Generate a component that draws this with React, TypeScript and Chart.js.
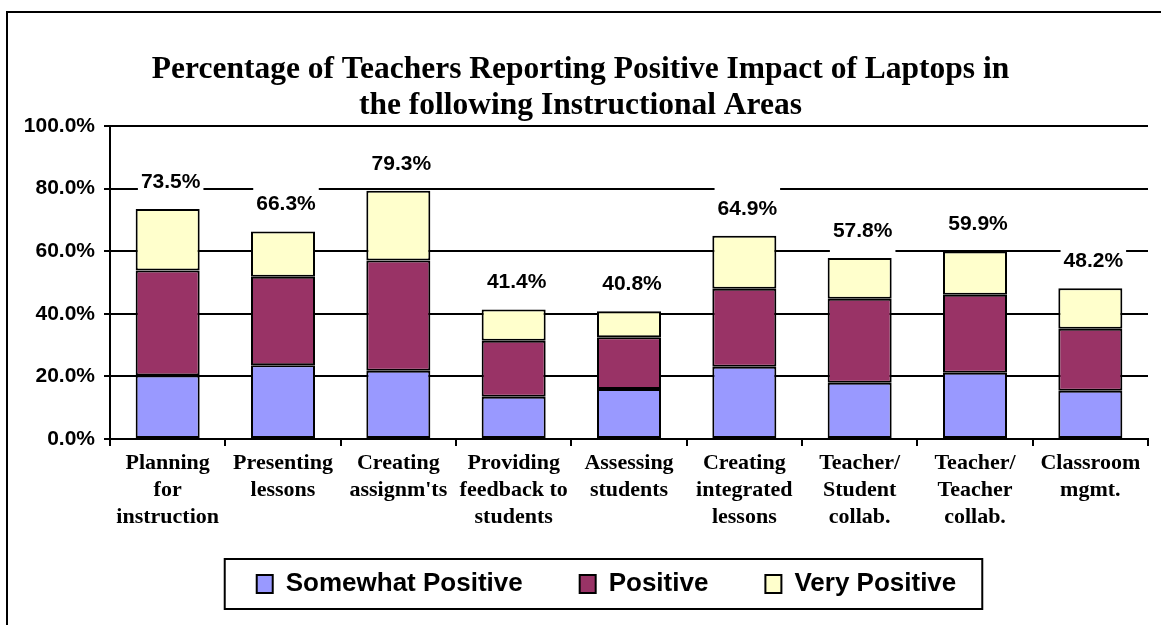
import { useEffect, useRef } from 'react';
import { Chart, registerables } from 'chart.js';

Chart.register(...registerables);

const titleLines = [
  'Percentage of Teachers Reporting Positive Impact of Laptops in',
  'the following Instructional Areas',
];

const categories: string[][] = [
  ['Planning', 'for', 'instruction'],
  ['Presenting', 'lessons'],
  ['Creating', "assignm'ts"],
  ['Providing', 'feedback to', 'students'],
  ['Assessing', 'students'],
  ['Creating', 'integrated', 'lessons'],
  ['Teacher/', 'Student', 'collab.'],
  ['Teacher/', 'Teacher', 'collab.'],
  ['Classroom', 'mgmt.'],
];

const seriesNames = ['Somewhat Positive', 'Positive', 'Very Positive'];
const somewhatPositive = [20.3, 23.6, 21.8, 13.5, 16.0, 23.1, 18.0, 21.2, 15.4];
const positive = [33.5, 28.2, 35.2, 17.9, 16.5, 24.9, 26.8, 24.9, 19.8];
const veryPositive = [19.7, 14.5, 22.3, 10.0, 8.3, 16.9, 13.0, 13.8, 13.0];
const seriesColors = ['#9999FF', '#993366', '#FFFFCC'];

const yMin = 0;
const yMax = 100;
const yStep = 20;

const SANS = '"Liberation Sans", Arial, Helvetica, sans-serif';
const SERIF = '"Times New Roman", "Liberation Serif", serif';

const LEGEND_FONT = 26;
const LEGEND_PAD = 57;
const LEGEND_SHIFT_X = 26;
const LEGEND_SHIFT_Y = -18;

const framePlugin = {
  id: 'outerFrame',
  beforeDraw(chart: any) {
    const ctx = chart.ctx;
    ctx.save();
    ctx.fillStyle = '#ffffff';
    ctx.fillRect(0, 0, chart.width, chart.height);
    ctx.strokeStyle = '#000';
    ctx.lineWidth = 2;
    ctx.strokeRect(7, 12, chart.width + 50, chart.height + 50);
    ctx.restore();
  },
};

const totalsPlugin = {
  id: 'totalLabels',
  afterDatasetsDraw(chart: any) {
    const ctx = chart.ctx;
    const yScale = chart.scales.y;
    const meta = chart.getDatasetMeta(2);
    ctx.save();
    ctx.font = `bold 21px ${SANS}`;
    ctx.textAlign = 'center';
    ctx.textBaseline = 'middle';
    categories.forEach((_, i) => {
      const total = somewhatPositive[i] + positive[i] + veryPositive[i];
      const text = total.toFixed(1) + '%';
      const x = meta.data[i].x + 3;
      const cy = yScale.getPixelForValue(total) - 27;
      const w = ctx.measureText(text).width + 6;
      ctx.fillStyle = '#ffffff';
      ctx.fillRect(x - w / 2, cy - 23, w, 46);
      ctx.fillStyle = '#000';
      ctx.fillText(text, x, cy);
    });
    ctx.restore();
  },
};

const legendFramePlugin = {
  id: 'legendFrame',
  afterLayout(chart: any) {
    const lg = chart.legend;
    if (lg) {
      lg.left += LEGEND_SHIFT_X;
      lg.right += LEGEND_SHIFT_X;
      lg.top += LEGEND_SHIFT_Y;
      lg.bottom += LEGEND_SHIFT_Y;
    }
  },
  afterDraw(chart: any) {
    const lg = chart.legend;
    if (!lg || !lg.legendHitBoxes || !lg.legendHitBoxes.length) return;
    const boxes = lg.legendHitBoxes;
    const first = boxes[0];
    const last = boxes[boxes.length - 1];
    const cy = lg.top + LEGEND_PAD + LEGEND_FONT / 2;
    const left = first.left - 32;
    const right = last.left + last.width + 26;
    const ctx = chart.ctx;
    ctx.save();
    ctx.strokeStyle = '#000';
    ctx.lineWidth = 2;
    ctx.strokeRect(left, cy - 25, right - left, 50);
    ctx.restore();
  },
};

export default function App() {
  const canvasRef = useRef<HTMLCanvasElement | null>(null);

  useEffect(() => {
    const canvas = canvasRef.current;
    if (!canvas) return;
    const seriesData = [somewhatPositive, positive, veryPositive];
    const chart = new Chart(canvas, {
      type: 'bar',
      data: {
        labels: categories,
        datasets: seriesNames.map((name, k) => ({
          label: name,
          data: seriesData[k],
          backgroundColor: seriesColors[k],
          borderColor: '#000',
          borderWidth: 2,
          borderSkipped: false,
          barPercentage: 0.555,
          categoryPercentage: 1,
        })),
      },
      options: {
        responsive: false,
        animation: false,
        events: [],
        layout: { padding: { left: 13, right: 13, top: 14, bottom: 0 } },
        scales: {
          x: {
            stacked: true,
            grid: {
              display: true,
              drawOnChartArea: false,
              drawTicks: true,
              tickLength: 7,
              color: '#000',
              lineWidth: 2,
              offset: true,
            },
            border: { display: true, color: '#000', width: 2 },
            ticks: {
              color: '#000',
              autoSkip: false,
              maxRotation: 0,
              minRotation: 0,
              padding: 4,
              font: { family: SERIF, weight: 'bold', size: 22, lineHeight: '27px' },
            },
            afterFit(scale: any) {
              scale.height = 93;
            },
          },
          y: {
            stacked: true,
            min: yMin,
            max: yMax,
            grid: {
              color: '#000',
              lineWidth: 2,
              drawTicks: true,
              tickLength: 6,
            },
            border: { display: true, color: '#000', width: 2 },
            ticks: {
              stepSize: yStep,
              color: '#000',
              padding: 9,
              font: { family: SANS, weight: 'bold', size: 21 },
              callback: (v: any) => Number(v).toFixed(1) + '%',
            },
            afterFit(scale: any) {
              scale.width = 97;
            },
          },
        },
        plugins: {
          title: {
            display: true,
            text: titleLines,
            color: '#000',
            font: { family: SERIF, weight: 'bold', size: 31.5, lineHeight: '36px' },
            padding: { top: 38, bottom: 2 },
          },
          legend: {
            display: true,
            position: 'bottom',
            labels: {
              color: '#000',
              boxWidth: 16,
              boxHeight: 18,
              padding: LEGEND_PAD,
              font: { family: SANS, weight: 'bold', size: LEGEND_FONT },
            },
          },
          tooltip: { enabled: false },
        },
      },
      plugins: [framePlugin, totalsPlugin, legendFramePlugin],
    } as any);
    return () => chart.destroy();
  }, []);

  return (
    <div style={{ position: 'fixed', left: 0, top: 0, width: 1161, height: 625 }}>
      <canvas ref={canvasRef} width={1161} height={625} style={{ display: 'block' }} />
    </div>
  );
}
